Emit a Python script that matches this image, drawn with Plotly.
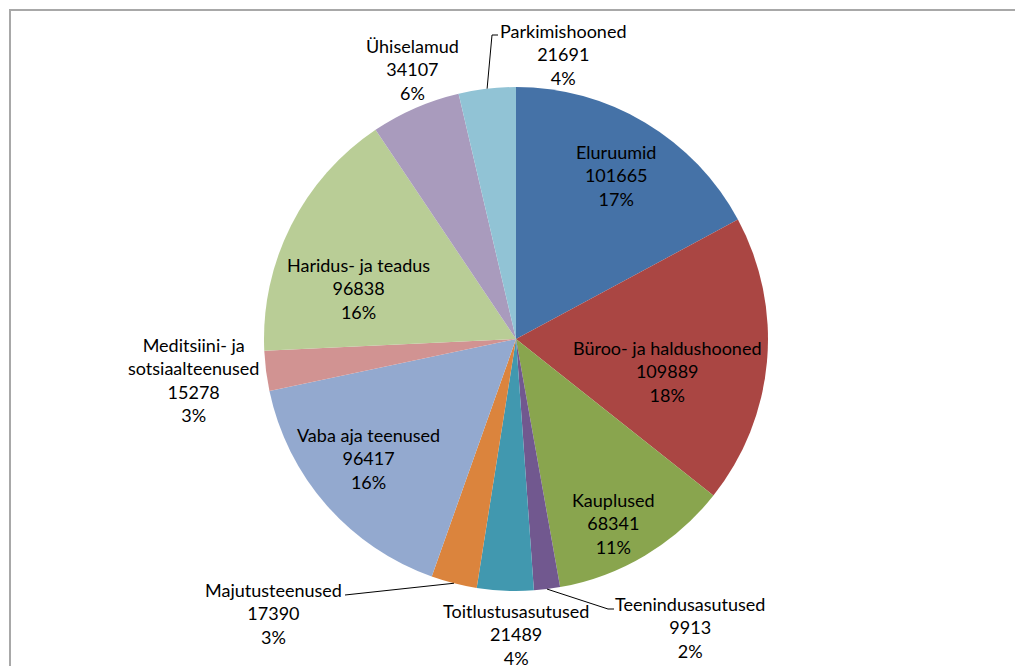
import math
import plotly.graph_objects as go

# Building-type floor areas
categories = [
    "Eluruumid", "Büroo- ja haldushooned", "Kauplused", "Teenindusasutused",
    "Toitlustusasutused", "Majutusteenused", "Vaba aja teenused",
    "Meditsiini- ja<br>sotsiaalteenused", "Haridus- ja teadus",
    "Ühiselamud", "Parkimishooned",
]
values = [101665, 109889, 68341, 9913, 21489, 17390, 96417, 15278, 96838, 34107, 21691]
percent_labels = ["17%", "18%", "11%", "2%", "4%", "3%", "16%", "3%", "16%", "6%", "4%"]

colors = ["#4572A7", "#AA4643", "#89A54E", "#71588F", "#4198AF", "#DB843D",
          "#93A9CF", "#D19392", "#B9CD96", "#A99BBD", "#91C3D5"]

W, H = 1015, 666
CX, CY, R = 516, 339, 252

# label block centres (pixels) and optional leader-line end points
label_pos = [
    (616, 175), (667, 371), (613, 523), (690, 627), (516, 634), (273, 613),
    (368, 458), (193, 380), (358, 289), (412, 70), (563, 55),
]
leaders = {
    3: [(608, 609), (614, 609)],
    5: [(345, 595)],
    10: [(492, 35), (498, 35)],
}

def px(x):
    return x / W

def py(y):
    return 1 - y / H

fig = go.Figure(go.Pie(
    labels=categories,
    values=values,
    sort=False,
    direction="clockwise",
    rotation=0,
    marker=dict(colors=colors, line=dict(width=0)),
    textinfo="none",
    hoverinfo="label+value+percent",
    showlegend=False,
    domain=dict(x=[px(CX - R), px(CX + R)], y=[py(CY + R), py(CY - R)]),
))

font = dict(family="Lato, Carlito, Calibri, sans-serif", size=18, color="#000000")

annotations = []
for i, (name, v, pct) in enumerate(zip(categories, values, percent_labels)):
    x, y = label_pos[i]
    annotations.append(dict(
        x=px(x), y=py(y), xref="paper", yref="paper",
        text=f"{name}<br>{v}<br>{pct}", showarrow=False,
        xanchor="center", yanchor="middle", align="center", font=font,
    ))

total = sum(values)
shapes = []
cum = 0
for i, v in enumerate(values):
    mid = (cum + v / 2) / total * 2 * math.pi
    cum += v
    if i in leaders:
        pts = [(CX + R * math.sin(mid), CY - R * math.cos(mid))] + leaders[i]
        path = "M " + " L ".join(f"{px(a)},{py(b)}" for a, b in pts)
        shapes.append(dict(type="path", path=path, xref="paper", yref="paper",
                           line=dict(color="#000000", width=1)))

# chart area frame
shapes.append(dict(type="path",
                   path=f"M {px(10)},{py(H + 5)} L {px(10)},{py(10)} L {px(W + 5)},{py(10)}",
                   xref="paper", yref="paper",
                   line=dict(color="#a8a8a8", width=2)))

fig.update_layout(
    width=W, height=H,
    margin=dict(l=0, r=0, t=0, b=0),
    paper_bgcolor="#ffffff",
    plot_bgcolor="#ffffff",
    annotations=annotations,
    shapes=shapes,
)

fig.write_html("out.html")
